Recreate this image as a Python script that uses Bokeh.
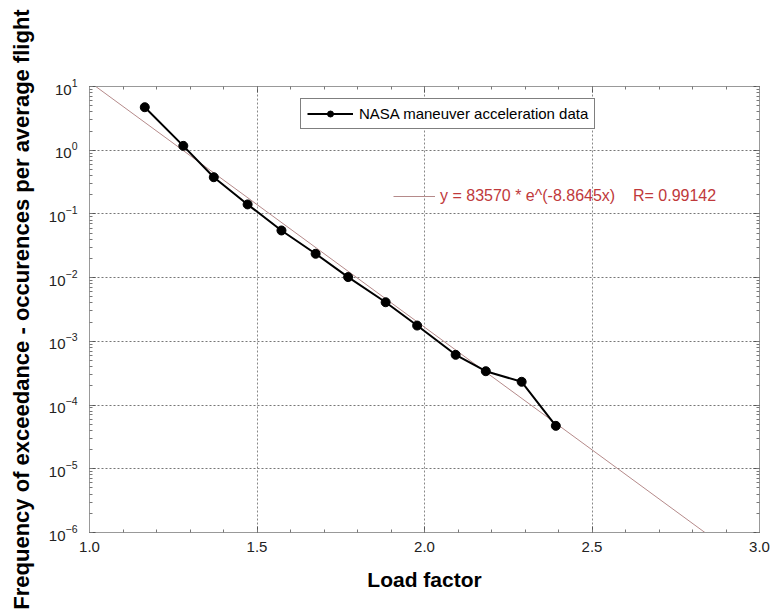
import numpy as np
from bokeh.plotting import figure
from bokeh.models import (LinearAxis, LogAxis, SingleIntervalTicker, LogTicker,
                          Legend, LegendItem, Range1d, NumeralTickFormatter)
from bokeh.embed import file_html
from bokeh.resources import INLINE

# ---- data ----
load_factor = [1.165, 1.280, 1.371, 1.472, 1.573, 1.675, 1.772, 1.884,
               1.978, 2.093, 2.183, 2.290, 2.392]
exceedance = [4.73, 1.17, 0.377, 0.141, 0.055, 0.0237, 0.0102, 0.00411,
              0.00177, 6.15e-4, 3.40e-4, 2.32e-4, 4.72e-5]
fit_a = 83570
fit_b = -8.8645
fit_r = 0.99142
fit_x = [1.0, 3.0]
fit_y = [fit_a * np.exp(fit_b * x) for x in fit_x]

series_label = "NASA maneuver acceleration data"
fit_label = "y = 83570 * e^(-8.8645x)\u00a0\u00a0\u00a0\u00a0R= 0.99142"
x_title = "Load factor"
y_title = "Frequency of exceedance - occurences per average flight"

FONT = "Liberation Sans"

p = figure(width=772, height=613, y_axis_type="log",
           x_range=Range1d(1.0, 3.0), y_range=Range1d(1e-6, 10),
           output_backend="svg", toolbar_location=None,
           min_border_left=89, min_border_right=13,
           min_border_top=86, min_border_bottom=81)

p.outline_line_color = "#999999"
p.background_fill_color = "white"
p.border_fill_color = "white"

p.xaxis.ticker = SingleIntervalTicker(interval=0.5, num_minor_ticks=5)
p.xaxis.formatter = NumeralTickFormatter(format="0.0")
p.yaxis.ticker = LogTicker(num_minor_ticks=10)

for ax in [p.xaxis[0], p.yaxis[0]]:
    ax.axis_line_color = "#999999"
    ax.major_tick_in = 6
    ax.major_tick_out = 0
    ax.minor_tick_in = 3
    ax.minor_tick_out = 0
    ax.major_tick_line_color = "#555555"
    ax.minor_tick_line_color = "#777777"
    ax.major_label_text_font = FONT
    ax.major_label_text_font_size = "15px"
    ax.major_label_text_color = "#222222"
    ax.axis_label_text_font = FONT
    ax.axis_label_text_font_style = "bold"
    ax.axis_label_text_color = "black"

p.xaxis.axis_label = x_title
p.xaxis.axis_label_text_font_size = "21px"
p.xaxis.major_label_standoff = 9
p.xaxis.axis_label_standoff = 13

p.yaxis.axis_label = y_title
p.yaxis.axis_label_text_font_size = "22px"
p.yaxis.major_label_standoff = 12
p.yaxis.axis_label_standoff = 12

mirror = dict(axis_line_color="#999999", major_label_text_font_size="4px",
              major_label_text_color=None, major_label_standoff=0,
              major_tick_in=6, major_tick_out=0, minor_tick_in=3, minor_tick_out=0,
              major_tick_line_color="#555555", minor_tick_line_color="#777777")
top = LinearAxis(ticker=SingleIntervalTicker(interval=0.5, num_minor_ticks=5), **mirror)
right = LogAxis(ticker=LogTicker(num_minor_ticks=10), **mirror)
p.add_layout(top, "above")
p.add_layout(right, "right")

p.xgrid.grid_line_color = "#888888"
p.xgrid.grid_line_dash = "2 2"
p.ygrid.grid_line_color = "#777777"
p.ygrid.grid_line_dash = "2 2"

r_fit = p.line(fit_x, fit_y, line_color="#b58a8a", line_width=1)
r_line = p.line(load_factor, exceedance, line_color="black", line_width=2)
r_pts = p.scatter(load_factor, exceedance, size=9, color="black")

leg1 = Legend(items=[LegendItem(label=series_label, renderers=[r_line, r_pts])],
              location=(211, 403), orientation="vertical",
              border_line_color="black", border_line_width=1,
              background_fill_color="white", background_fill_alpha=1,
              padding=6, margin=0, spacing=0, glyph_width=46, glyph_height=15,
              label_height=15, label_standoff=6,
              label_text_font=FONT, label_text_font_size="15px",
              label_text_color="black")
leg2 = Legend(items=[LegendItem(label=fit_label, renderers=[r_fit])],
              location=(304, 326), border_line_color=None,
              background_fill_alpha=0, padding=0, margin=0, spacing=0,
              glyph_width=42, glyph_height=20, label_height=20, label_standoff=5,
              label_text_font=FONT, label_text_font_size="16px",
              label_text_color="#c0393b")
p.add_layout(leg1)
p.add_layout(leg2)

open("out.html", "w").write(file_html(p, INLINE))
